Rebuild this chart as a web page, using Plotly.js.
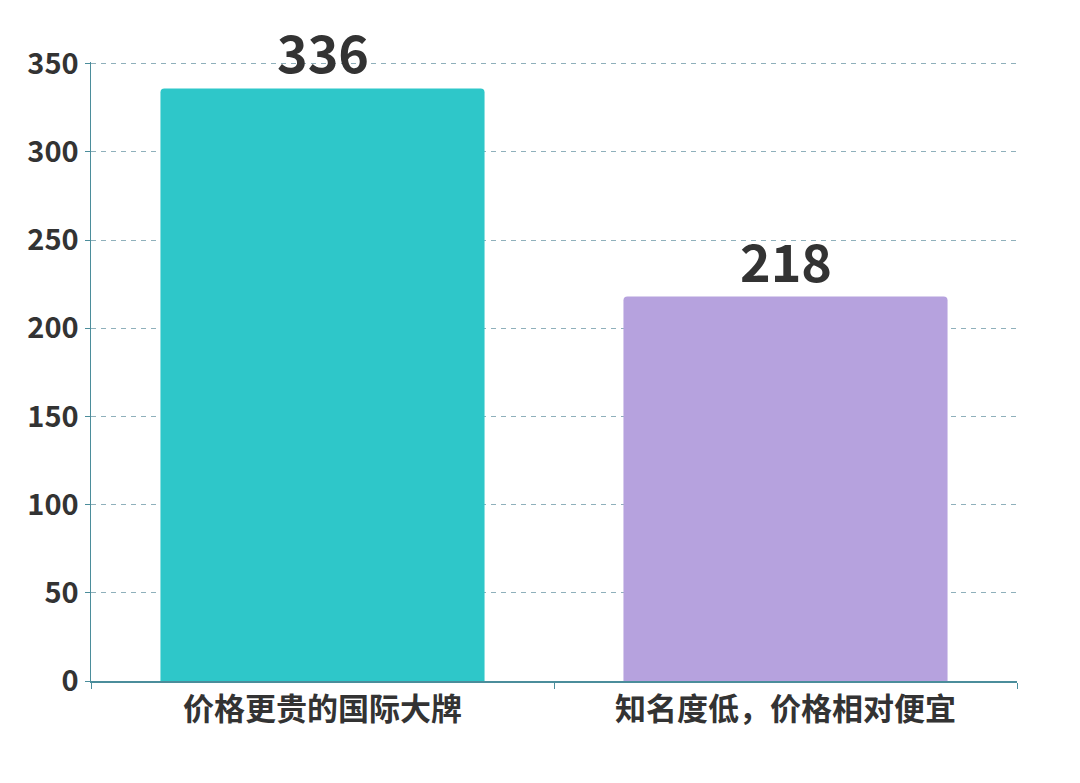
<!DOCTYPE html>
<html>
<head>
<meta charset="utf-8">
<script src="https://cdn.plot.ly/plotly-3.0.1.min.js"></script>
<style>
  html, body { margin: 0; padding: 0; background: #fff; }
  #chart { width: 1080px; height: 783px; }
</style>
</head>
<body>
<div id="chart"></div>
<script>
const categories = ["价格更贵的国际大牌", "知名度低，价格相对便宜"];
const counts = [336, 218];
const barColors = ["#2ec7c9", "#b6a2de"];
const yTicks = [0, 50, 100, 150, 200, 250, 300, 350];

const font = '"Noto Sans CJK SC", "Noto Sans", sans-serif';

const trace = {
    type: 'bar',
    x: categories,
    y: counts,
    width: 0.7,
    marker: { color: barColors, cornerradius: 4, line: { width: 0 } },
    cliponaxis: false,
    hoverinfo: 'x+y'
};

// value labels above the bars
const labels = categories.map((c, i) => ({
    x: c,
    y: counts[i],
    xref: 'x',
    yref: 'y',
    text: String(counts[i]),
    showarrow: false,
    yanchor: 'bottom',
    yshift: -2,
    font: { family: font, size: 52, color: '#333', weight: 'bold' }
}));

const layout = {
    width: 1080,
    height: 783,
    margin: { l: 91, r: 63, t: 62, b: 102 },
    paper_bgcolor: '#fff',
    plot_bgcolor: '#fff',
    showlegend: false,
    annotations: labels,
    xaxis: {
        type: 'category',
        tickson: 'boundaries',
        ticks: 'outside',
        ticklen: 6,
        tickcolor: '#4b8d9b',
        showline: true,
        linecolor: '#4b8d9b',
        linewidth: 1.5,
        showgrid: false,
        tickfont: { family: font, size: 31, color: '#333', weight: 'bold' }
    },
    yaxis: {
        range: [0, 351],
        tickvals: yTicks,
        ticks: 'outside',
        ticklen: 5,
        tickcolor: '#4b8d9b',
        showline: true,
        linecolor: '#4b8d9b',
        linewidth: 1.5,
        gridcolor: '#8fb0bb',
        griddash: '5px,5px',
        gridwidth: 1,
        zeroline: false,
        tickfont: { family: font, size: 29, color: '#333', weight: 'bold' }
    }
};

Plotly.newPlot('chart', [trace], layout, { displayModeBar: false, staticPlot: true });
</script>
</body>
</html>
